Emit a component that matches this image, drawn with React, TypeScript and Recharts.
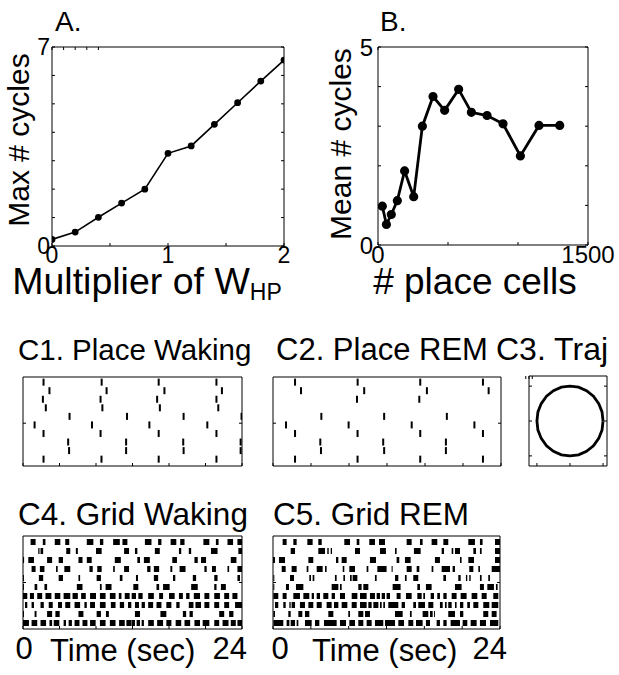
import React from "react";
import { LineChart, Line, XAxis, YAxis, ScatterChart, Scatter } from "recharts";

const FONT = '"Liberation Sans", Arial, Helvetica, sans-serif';

// A. max number of cycles vs multiplier of W_HP
const multiplierW = [0, 0.2, 0.4, 0.6, 0.8, 1.0, 1.2, 1.4, 1.6, 1.8, 2.0];
const maxCycles = [0.23, 0.49, 1.01, 1.51, 2.0, 3.26, 3.52, 4.28, 5.04, 5.8, 6.54];

// B. mean number of cycles vs number of place cells
const placeCellCounts = [31, 60, 95, 138, 190, 255, 317, 393, 476, 576, 667, 779, 893, 1017, 1150, 1298];
const meanCycles = [0.98, 0.52, 0.77, 1.12, 1.87, 1.22, 3.0, 3.75, 3.4, 3.93, 3.35, 3.27, 3.06, 2.25, 3.02, 3.02];

const aXTicks = [0, 0.5, 1, 1.5, 2];
const aYTicks = [0, 1, 2, 3, 4, 5, 6, 7];
const bXTicks = [0, 500, 1000, 1500];
const bYTicks = [0, 1, 2, 3, 4, 5];
const timeTicks = [0, 4, 8, 12, 16, 20, 24];
const trajTicks = [-1, 0, 1];

// C1 / C2. spike times (sec), one list per place cell, top row first
const placeWakingSpikes = [
  [2.25, 8.62, 14.87, 21.2],
  [2.9, 9.16, 15.5, 21.8],
  [2.18, 8.5, 14.7, 21.2],
  [2.5, 8.7, 15.0, 21.4],
  [5.1, 11.4, 17.6, 23.95],
  [1.27, 7.56, 13.85, 20.2],
  [2.25, 8.5, 14.87, 21.2],
  [4.95, 11.3, 17.56, 23.85],
  [5.05, 11.3, 17.6, 23.85],
  [2.25, 8.6, 14.87, 21.2],
];
const placeRemSpikes = [
  [2.32, 8.91, 15.5, 22.1],
  [2.95, 9.6, 16.2, 22.7],
  [8.84, 15.4],
  [],
  [5.09, 11.7, 18.3],
  [1.37, 7.96, 14.6, 21.2],
  [2.32, 8.9, 15.5, 22.1],
  [4.98, 11.6, 18.2],
  [5.05, 11.7, 18.2],
  [2.32, 8.9, 15.5, 22.1],
];

// C3. trajectory
const trajX = [1, 0.97, 0.87, 0.71, 0.5, 0.26, 0, -0.26, -0.5, -0.71, -0.87, -0.97, -1, -0.97, -0.87, -0.71, -0.5, -0.26, 0, 0.26, 0.5, 0.71, 0.87, 0.97, 1];
const trajY = [0, 0.26, 0.5, 0.71, 0.87, 0.97, 1, 0.97, 0.87, 0.71, 0.5, 0.26, 0, -0.26, -0.5, -0.71, -0.87, -0.97, -1, -0.97, -0.87, -0.71, -0.5, -0.26, 0];

// C4 / C5. burst intervals [start, end] (sec), one list per grid cell
const gridWakingBursts: [number, number][][] = [
  [[0.83, 1.38], [2.17, 2.46], [3.48, 4.09], [4.63, 5.07], [6.99, 7.71], [8.43, 8.8], [9.88, 10.61], [10.9, 11.44], [13.36, 14.08], [14.81, 15.17], [16.18, 16.8], [17.23, 17.7], [19.77, 20.42], [21.14, 21.43], [22.41, 23.02], [23.5, 24.0]],
  [[1.67, 1.81], [1.92, 2.21], [4.74, 5.18], [5.79, 6.01], [8.0, 8.62], [11.08, 11.62], [12.27, 12.53], [14.45, 14.99], [17.09, 17.34], [18.17, 18.43], [20.6, 21.32], [23.6, 24.0]],
  [[0, 0.12], [0.58, 1.2], [2.64, 3.19], [3.91, 4.38], [6.08, 6.52], [6.99, 7.53], [10.06, 10.72], [12.53, 12.82], [13.25, 13.9], [16.36, 16.87], [18.79, 19.15], [19.51, 20.06], [22.77, 23.39]],
  [[0.94, 1.38], [1.85, 2.35], [3.62, 3.8], [4.53, 5.18], [7.28, 7.64], [8.14, 8.62], [9.88, 10.06], [11.08, 11.62], [13.61, 13.97], [14.34, 14.92], [16.15, 16.36], [17.16, 17.81], [19.88, 20.13], [20.71, 21.14], [22.41, 22.59], [23.5, 24.0]],
  [[0, 0.1], [1.74, 2.21], [3.91, 4.38], [6.08, 6.26], [8.07, 8.54], [10.61, 10.9], [12.38, 12.6], [14.34, 14.81], [16.44, 16.69], [18.61, 18.97], [20.96, 21.32], [23.5, 23.78]],
  [[0, 0.1], [1.27, 1.56], [2.35, 2.64], [5.9, 6.52], [8.43, 8.62], [9.05, 9.7], [12.09, 12.64], [14.63, 14.92], [15.35, 16.07], [18.43, 19.15], [20.96, 21.21], [21.69, 22.23]],
  [[0, 0.47], [0.76, 1.2], [1.56, 2.1], [2.46, 3.11], [3.48, 4.09], [4.45, 5.18], [5.43, 6.01], [6.37, 6.88], [7.35, 8.0], [8.43, 9.05], [9.52, 10.14], [10.5, 10.79], [11.15, 11.69], [11.91, 12.38], [12.64, 13.11], [13.72, 14.34], [14.92, 15.35], [16.0, 16.62], [17.09, 17.52], [17.88, 18.25], [18.72, 19.4], [19.88, 20.42], [20.96, 21.58], [22.05, 22.59], [22.95, 23.5]],
  [[0.22, 0.47], [0.94, 1.2], [1.92, 2.28], [2.82, 3.26], [3.84, 4.27], [4.63, 5.18], [5.65, 6.26], [6.73, 6.99], [7.35, 7.89], [8.43, 9.05], [9.63, 10.14], [10.61, 11.08], [11.51, 11.87], [12.27, 12.71], [13.0, 13.36], [13.72, 14.26], [14.63, 15.17], [15.71, 16.26], [16.8, 17.16], [18.17, 18.68], [18.9, 19.51], [19.88, 20.42], [20.96, 21.5], [22.05, 22.59], [23.24, 24.0]],
  [[0, 0.11], [1.27, 1.48], [2.64, 3.19], [3.55, 4.02], [6.08, 6.62], [8.07, 8.54], [9.09, 9.41], [12.27, 12.82], [15.06, 15.71], [17.52, 17.88], [18.25, 18.61], [21.5, 22.05], [22.59, 23.06]],
  [[0, 0.65], [0.94, 1.56], [1.92, 2.53], [2.9, 3.19], [3.37, 3.98], [4.45, 4.71], [5.0, 5.36], [5.65, 6.19], [6.52, 7.06], [7.35, 7.96], [8.43, 9.05], [9.52, 10.14], [10.53, 11.15], [11.33, 11.87], [11.91, 12.27], [12.45, 12.82], [13.0, 13.25], [13.72, 14.34], [14.7, 15.35], [15.71, 16.26], [16.73, 17.34], [17.7, 18.32], [18.79, 19.4], [19.69, 20.42], [20.96, 21.5], [21.87, 22.52], [22.77, 23.32], [23.5, 24.0]],
];
const gridRemBursts: [number, number][][] = [
  [[1.02, 1.44], [2.15, 2.5], [3.63, 4.19], [4.79, 5.15], [7.54, 8.14], [8.85, 9.13], [10.18, 10.78], [11.21, 11.84], [14.13, 14.66], [15.54, 15.82], [16.77, 17.37], [18.01, 18.53], [20.65, 21.35], [21.88, 22.16], [23.47, 24.0]],
  [[1.87, 2.33], [4.79, 5.5], [5.74, 5.89], [6.1, 6.24], [8.67, 9.2], [11.31, 11.94], [12.9, 13.07], [14.9, 15.61], [17.83, 18.08], [18.89, 19.06], [19.24, 19.77], [21.18, 21.46], [21.88, 22.06], [23.47, 24.0]],
  [[0, 0.21], [0.63, 1.27], [3.74, 4.26], [6.66, 6.91], [7.26, 7.79], [10.25, 10.89], [13.07, 13.35], [13.95, 14.55], [17.12, 17.65], [19.77, 19.94], [20.65, 21.25], [23.47, 24.0]],
  [[0.92, 1.34], [1.97, 2.5], [3.56, 3.74], [4.62, 5.25], [5.5, 5.67], [7.37, 7.54], [8.07, 8.67], [9.9, 10.08], [11.03, 12.01], [12.54, 12.65], [14.13, 14.66], [15.19, 15.47], [16.77, 16.95], [17.83, 18.71], [18.99, 19.24], [20.75, 21.18], [21.71, 21.88], [23.12, 24.0]],
  [[0.04, 0.14], [1.8, 2.22], [3.84, 4.02], [4.19, 4.37], [6.55, 6.73], [7.44, 7.61], [8.14, 8.32], [8.42, 8.92], [10.78, 10.96], [12.9, 13.25], [13.95, 14.13], [14.83, 15.36], [18.01, 18.29], [19.59, 19.84], [20.4, 20.54], [20.75, 20.9], [21.88, 22.06], [22.76, 22.94]],
  [[0.04, 0.14], [1.37, 1.69], [2.43, 3.21], [6.2, 6.91], [7.08, 7.26], [9.02, 9.37], [9.55, 10.08], [12.65, 13.49], [15.26, 15.54], [16.17, 16.77], [19.24, 19.94], [21.88, 22.3], [22.66, 23.36], [23.57, 23.75]],
  [[0.04, 0.56], [1.02, 1.44], [2.15, 2.85], [3.21, 3.84], [4.09, 4.33], [4.62, 4.97], [5.32, 5.85], [6.2, 6.55], [7.08, 7.61], [8.32, 8.92], [9.2, 9.9], [10.25, 10.78], [10.96, 11.31], [11.49, 11.84], [12.01, 12.37], [13.07, 13.49], [14.06, 14.66], [15.26, 15.72], [15.89, 16.07], [16.67, 17.02], [17.37, 17.65], [18.01, 18.36], [18.89, 19.41], [19.84, 20.47], [21.0, 21.6], [22.06, 22.59], [23.29, 23.82]],
  [[0.21, 0.56], [1.09, 1.34], [1.73, 1.87], [1.97, 2.33], [2.85, 3.38], [3.74, 4.26], [4.62, 5.15], [5.67, 6.2], [6.45, 6.91], [7.26, 7.86], [8.32, 8.85], [9.2, 9.9], [10.08, 10.43], [10.61, 11.14], [11.31, 11.49], [11.66, 11.84], [12.19, 13.25], [13.6, 13.95], [14.83, 15.12], [15.36, 16.07], [16.42, 16.95], [17.65, 17.94], [18.18, 18.36], [18.53, 18.89], [19.24, 19.41], [19.77, 20.12], [20.54, 20.82], [21.18, 21.71], [22.23, 22.87], [23.12, 23.82]],
  [[0.04, 0.21], [1.62, 1.87], [2.68, 3.1], [3.38, 3.84], [5.85, 6.38], [7.96, 8.14], [9.02, 9.55], [9.73, 10.25], [12.9, 13.71], [14.48, 14.66], [15.82, 16.42], [16.6, 16.88], [17.02, 17.12], [18.53, 19.24], [19.77, 20.12], [22.23, 22.76], [23.12, 23.64]],
  [[0.04, 1.09], [1.44, 1.73], [1.87, 2.33], [2.5, 2.68], [3.38, 4.09], [4.44, 4.9], [5.39, 6.73], [7.08, 7.72], [8.07, 8.67], [9.02, 9.55], [9.9, 10.43], [10.78, 11.66], [11.84, 12.9], [13.25, 13.85], [14.31, 14.83], [15.12, 15.82], [16.17, 16.6], [17.3, 17.65], [18.01, 18.36], [18.78, 19.77], [20.05, 20.54], [20.9, 21.53], [21.88, 22.52], [22.94, 23.82]],
];

const panelA = multiplierW.map((x, i) => ({ x, y: maxCycles[i] }));
const panelB = placeCellCounts.map((x, i) => ({ x, y: meanCycles[i] }));
const trajectory = trajX.map((x, i) => ({ x, y: trajY[i] }));
const spikePoints = (rows: number[][]) =>
  rows.flatMap((times, i) => times.map((t) => ({ t, row: i + 1 })));
// each burst becomes a short segment, a null point breaks the line between bursts
const burstLine = (bursts: [number, number][], row: number) =>
  bursts.flatMap(([a, b]) => [
    { t: a, v: row },
    { t: b, v: row },
    { t: b, v: null },
  ]);

const black = { stroke: "#000", strokeWidth: 1 };

type BoxSpec = {
  xKey: string;
  yKey?: string;
  xDomain: [number, number];
  yDomain: [number, number];
  xTicks: number[];
  yTicks: number[];
  xHeight: number;
  yWidth: number;
  xLabels?: number[];
  yLabels?: number[];
  xTickMargin?: number;
  yTickMargin?: number;
  fontSize?: number;
  yReversed?: boolean;
  xTick?: any;
};

// matlab style box: inward ticks on all four sides, labels only bottom/left
function boxAxes(p: BoxSpec) {
  const tickStyle = { fill: "#000", fontSize: p.fontSize ?? 24, fontFamily: FONT };
  const fmtX = (v: number) => (p.xLabels && p.xLabels.includes(v) ? String(v) : "");
  const fmtY = (v: number) => (p.yLabels && p.yLabels.includes(v) ? String(v) : "");
  const none = () => "";
  return [
    <XAxis
      key="xb"
      type="number"
      dataKey={p.xKey}
      domain={p.xDomain}
      ticks={p.xTicks}
      allowDataOverflow
      interval={0}
      height={p.xHeight}
      tickSize={-3}
      tickMargin={p.xTickMargin ?? 10}
      tickFormatter={fmtX}
      tick={p.xTick ?? tickStyle}
      axisLine={black}
      tickLine={black}
    />,
    <XAxis
      key="xt"
      xAxisId="t"
      orientation="top"
      type="number"
      domain={p.xDomain}
      ticks={p.xTicks}
      allowDataOverflow
      interval={0}
      height={1}
      tickSize={-3}
      tickFormatter={none}
      axisLine={black}
      tickLine={black}
    />,
    <YAxis
      key="yl"
      type="number"
      dataKey={p.yKey}
      domain={p.yDomain}
      ticks={p.yTicks}
      allowDataOverflow
      interval={0}
      reversed={p.yReversed}
      width={p.yWidth}
      tickSize={-3}
      tickMargin={p.yTickMargin ?? 8}
      tickFormatter={fmtY}
      tick={tickStyle}
      axisLine={black}
      tickLine={black}
    />,
    <YAxis
      key="yr"
      yAxisId="r"
      orientation="right"
      type="number"
      domain={p.yDomain}
      ticks={p.yTicks}
      allowDataOverflow
      interval={0}
      reversed={p.yReversed}
      width={1}
      tickSize={-3}
      tickFormatter={none}
      axisLine={black}
      tickLine={black}
    />,
  ];
}

const SpikeMark = (props: any) => (
  <rect x={props.cx - 1} y={props.cy - 3.5} width={2} height={7} fill="#000" />
);

function timeTick(zeroDx: number, endDx: number) {
  return (props: any) => {
    const { x, y, payload } = props;
    const v = payload.value;
    if (v !== 0 && v !== 24) return <g />;
    return (
      <text
        x={v === 0 ? x + zeroDx : x + endDx}
        y={y}
        dy="0.71em"
        textAnchor={v === 0 ? "middle" : "end"}
        fontSize={31}
        fontFamily={FONT}
        fill="#000"
      >
        {v}
      </text>
    );
  };
}

function GridRaster({ bursts, zeroDx, endDx, width }: { bursts: [number, number][][]; zeroDx: number; endDx: number; width: number }) {
  return (
    <LineChart width={width} height={175} margin={{ top: 35, right: 18, bottom: 0, left: 0 }}>
      {boxAxes({
        xKey: "t",
        xDomain: [0, 24],
        yDomain: [0.33, 10.67],
        xTicks: timeTicks,
        yTicks: [5.5],
        xHeight: 46,
        yWidth: 23,
        xTickMargin: 11,
        yReversed: true,
        xTick: timeTick(zeroDx, endDx),
      })}
      {bursts.map((b, i) => (
        <Line
          key={i}
          data={burstLine(b, i + 1)}
          dataKey="v"
          stroke="#000"
          strokeWidth={6}
          strokeLinecap="butt"
          dot={false}
          activeDot={false}
          isAnimationActive={false}
        />
      ))}
    </LineChart>
  );
}

function PlaceRaster({ spikes, width, height }: { spikes: number[][]; width: number; height: number }) {
  return (
    <ScatterChart width={width} height={height} margin={{ top: 6, right: 18, bottom: 0, left: 0 }}>
      {boxAxes({
        xKey: "t",
        yKey: "row",
        xDomain: [0, 24],
        yDomain: [0.4, 10.8],
        xTicks: timeTicks,
        yTicks: [5.8],
        xHeight: 14,
        yWidth: 23,
        yReversed: true,
      })}
      <Scatter data={spikePoints(spikes)} shape={SpikeMark} isAnimationActive={false} />
    </ScatterChart>
  );
}

const abs = (left: number, top: number): React.CSSProperties => ({ position: "absolute", left, top });

export default function App() {
  return (
    <div style={{ position: "absolute", left: 0, top: 0, width: 619, height: 675, background: "#fff", overflow: "hidden", fontFamily: FONT }}>
      <div style={abs(0, 0)}>
        <LineChart width={300} height={300} data={panelA} margin={{ top: 46, right: 15, bottom: 0, left: 0 }}>
          {boxAxes({
            xKey: "x",
            xDomain: [0, 2],
            yDomain: [0, 7],
            xTicks: aXTicks,
            yTicks: aYTicks,
            xHeight: 54,
            yWidth: 52,
            xLabels: [0, 1, 2],
            yLabels: [0, 7],
            xTickMargin: 4,
            yTickMargin: 5,
            fontSize: 23,
          })}
          <Line dataKey="y" stroke="#000" strokeWidth={1.6} dot={{ r: 2.6, fill: "#000", stroke: "#000" }} activeDot={false} isAnimationActive={false} />
        </LineChart>
      </div>

      <div style={abs(300, 0)}>
        <LineChart width={319} height={300} data={panelB} margin={{ top: 46, right: 30, bottom: 0, left: 0 }}>
          {boxAxes({
            xKey: "x",
            xDomain: [0, 1500],
            yDomain: [0, 5],
            xTicks: bXTicks,
            yTicks: bYTicks,
            xHeight: 55,
            yWidth: 78,
            xLabels: [0, 1500],
            yLabels: [0, 5],
            xTickMargin: 4,
            yTickMargin: 8,
            fontSize: 24,
          })}
          <Line dataKey="y" stroke="#000" strokeWidth={2.8} dot={{ r: 3.2, fill: "#000", stroke: "#000" }} activeDot={false} isAnimationActive={false} />
        </LineChart>
      </div>

      <div style={abs(0, 370)}>
        <PlaceRaster spikes={placeWakingSpikes} width={261} height={110} />
      </div>
      <div style={abs(250, 370)}>
        <PlaceRaster spikes={placeRemSpikes} width={270} height={110} />
      </div>

      <div style={abs(515, 366)}>
        <LineChart width={104} height={110} data={trajectory} margin={{ top: 9, right: 11, bottom: 0, left: 0 }}>
          {boxAxes({
            xKey: "x",
            xDomain: [-1.24, 1.12],
            yDomain: [-1.29, 1.29],
            xTicks: trajTicks,
            yTicks: trajTicks,
            xHeight: 10,
            yWidth: 14,
          })}
          <Line dataKey="y" stroke="#000" strokeWidth={2.8} dot={false} activeDot={false} isAnimationActive={false} />
        </LineChart>
      </div>

      <div style={abs(0, 500)}>
        <GridRaster bursts={gridWakingBursts} zeroDx={1} endDx={5} width={261} />
      </div>
      <div style={abs(250, 500)}>
        <GridRaster bursts={gridRemBursts} zeroDx={7} endDx={7} width={269} />
      </div>

      <svg width={619} height={675} style={{ position: "absolute", left: 0, top: 0, pointerEvents: "none" }} fontFamily={FONT} fill="#000">
        <text x={55} y={31} fontSize={28}>A.</text>
        <text x={380} y={31} fontSize={28}>B.</text>
        <text transform="translate(29,140) rotate(-90)" textAnchor="middle" fontSize={30}>Max # cycles</text>
        <text transform="translate(351,144) rotate(-90)" textAnchor="middle" fontSize={30}>Mean # cycles</text>
        <text x={147} y={294} textAnchor="middle" fontSize={37.5}>
          Multiplier of W<tspan fontSize={23} dy={6}>HP</tspan>
        </text>
        <text x={475} y={294} textAnchor="middle" fontSize={37}># place cells</text>
        <text x={18} y={360} fontSize={29.5}>C1. Place Waking</text>
        <text x={276} y={360} fontSize={31}>C2. Place REM</text>
        <text x={496} y={360} fontSize={32}>C3. Traj</text>
        <text x={18} y={525} fontSize={31.5}>C4. Grid Waking</text>
        <text x={273} y={525} fontSize={31.5}>C5. Grid REM</text>
        <text x={50} y={661} fontSize={31}>Time (sec)</text>
        <text x={312} y={661} fontSize={31}>Time (sec)</text>
      </svg>
    </div>
  );
}
